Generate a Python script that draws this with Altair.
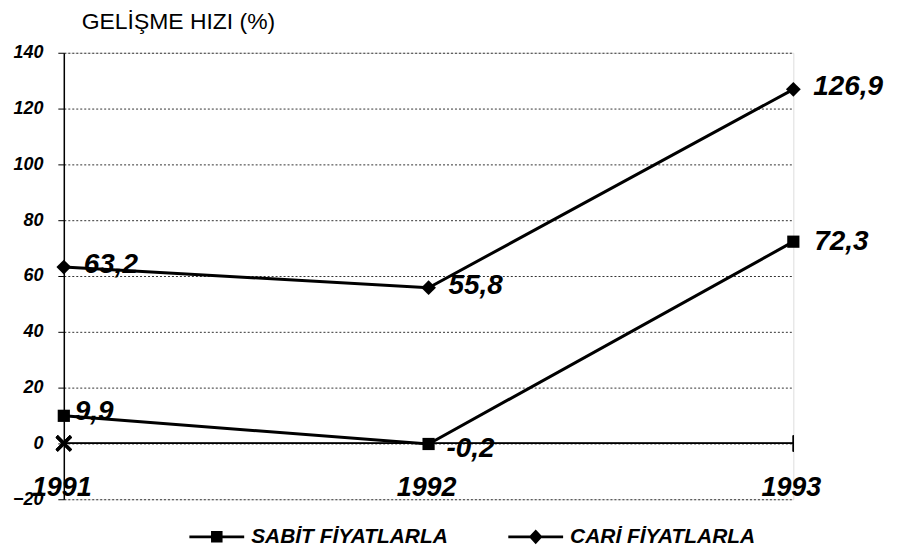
import altair as alt
import pandas as pd

years = [1991, 1992, 1993]
sabit = [9.9, -0.2, 72.3]
cari = [63.2, 55.8, 126.9]
series_names = ["SABİT FİYATLARLA", "CARİ FİYATLARLA"]
y_ticks = [-20, 0, 20, 40, 60, 80, 100, 120, 140]
title_text = "GELİŞME HIZI (%)"


def fmt(v):
    return f"{v:.1f}".replace(".", ",")


rows = []
for name, vals in zip(series_names, [sabit, cari]):
    for yr, v in zip(years, vals):
        rows.append({"year": yr, "value": v, "series": name, "label": fmt(v)})
df = pd.DataFrame(rows)

FONT = "Liberation Sans"

x = alt.X(
    "year:Q",
    scale=alt.Scale(domain=[1991, 1993], nice=False, zero=False),
    axis=alt.Axis(title=None, labels=False, ticks=False, domain=False, grid=False),
)
y = alt.Y(
    "value:Q",
    scale=alt.Scale(domain=[-20, 140], nice=False, zero=False),
    axis=alt.Axis(
        values=y_ticks, title=None, grid=True, gridDash=[2, 2], gridColor="#333333",
        gridWidth=1, domainColor="black", domainWidth=1.5, tickColor="black", tickSize=6,
        labelPadding=15, labelFontSize=18, labelFont=FONT, labelFontStyle="italic",
        labelFontWeight="bold", labelColor="black",
    ),
)

base = alt.Chart(df)

zero_rule = base.mark_rule(color="black", strokeWidth=1.2).encode(
    x=alt.datum(1991), x2=alt.datum(1993), y=alt.datum(0)
)
end_tick = base.mark_tick(orient="vertical", size=16, thickness=1.2, color="black").encode(
    x=alt.datum(1993), y=alt.datum(0)
)
origin_cross = base.mark_point(
    shape="M-1,-1L1,1M-1,1L1,-1", size=200, strokeWidth=3, color="black", filled=False, opacity=1
).encode(x=alt.datum(1991), y=alt.datum(0))

year_labels = base.transform_filter(alt.datum.series == series_names[0]).transform_calculate(
    year_label="toString(datum.year)"
).mark_text(
    font=FONT, fontSize=27, fontStyle="italic", fontWeight="bold", color="black",
    align="center", baseline="alphabetic", dy=-3, dx=-2,
).encode(x=x, y=alt.datum(-20), text="year_label:N")

lines = base.mark_line(color="black", strokeWidth=3).encode(x=x, y=y, detail="series:N")

squares = base.transform_filter(alt.datum.series == series_names[0]).mark_point(
    shape="square", size=150, filled=True, color="black", opacity=1
).encode(x=x, y=y)
diamonds = base.transform_filter(alt.datum.series == series_names[1]).mark_point(
    shape="diamond", size=220, filled=True, color="black", opacity=1
).encode(x=x, y=y)

legend_layer = base.mark_point(filled=True, color="black", opacity=0).encode(
    x=x, y=y,
    shape=alt.Shape(
        "series:N",
        scale=alt.Scale(
            domain=series_names,
            range=[
                "M-1,-0.05H1V0.05H-1Z M-0.21,-0.21H0.21V0.21H-0.21Z",
                "M-1,-0.05H1V0.05H-1Z M0,-0.27L0.25,0L0,0.27L-0.25,0Z",
            ],
        ),
        legend=alt.Legend(
            title=None, orient="none", legendX=126, legendY=458, direction="horizontal",
            symbolSize=3025, symbolStrokeWidth=0, symbolFillColor="black",
            symbolOpacity=1, labelLimit=400,
            labelFontSize=21, labelFont=FONT, labelFontStyle="italic", labelFontWeight="bold",
            labelColor="black", labelOffset=7, columnPadding=60,
        ),
    ),
)

text_style = dict(font=FONT, fontSize=28, fontStyle="italic", fontWeight="bold",
                  color="black", align="left", baseline="middle")

cari_text = base.transform_filter(alt.datum.series == series_names[1]).mark_text(
    dx=20, dy=-2, **text_style
).encode(x=x, y=y, text="label:N")
sabit_1 = base.transform_filter(
    (alt.datum.series == series_names[0]) & (alt.datum.year == 1991)
).mark_text(dx=11, dy=-4, **text_style).encode(x=x, y=y, text="label:N")
sabit_2 = base.transform_filter(
    (alt.datum.series == series_names[0]) & (alt.datum.year == 1992)
).mark_text(dx=18, dy=5, **text_style).encode(x=x, y=y, text="label:N")
sabit_3 = base.transform_filter(
    (alt.datum.series == series_names[0]) & (alt.datum.year == 1993)
).mark_text(dx=21, dy=0, **text_style).encode(x=x, y=y, text="label:N")

chart = alt.layer(
    zero_rule, end_tick, lines, origin_cross, squares, diamonds, legend_layer,
    year_labels, cari_text, sabit_1, sabit_2, sabit_3,
).properties(
    width=732,
    height=448,
    padding={"left": 56, "top": 44, "right": 100, "bottom": 46},
    autosize=alt.AutoSizeParams(type="none"),
    title=alt.Title(
        title_text, anchor="start", frame="group", offset=10, dx=18,
        fontSize=23, font=FONT, fontWeight="normal", color="black",
    ),
).configure_view(stroke=None).configure(background="white")

chart.save("out.html", embed_options={"renderer": "svg", "actions": False})
